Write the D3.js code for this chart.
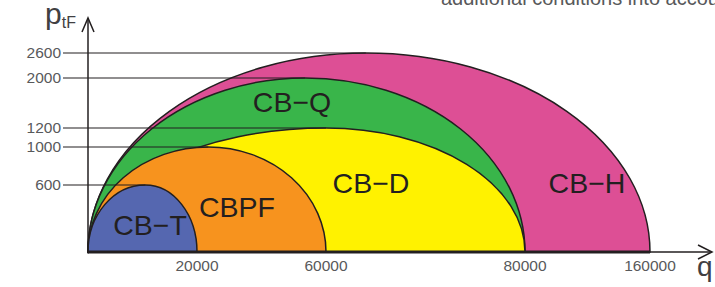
<!DOCTYPE html>
<html>
<head>
<meta charset="utf-8">
<script src="https://cdn.jsdelivr.net/npm/d3@7"></script>
<style>
  body { margin: 0; background: #fff; }
  svg { display: block; font-family: "Liberation Sans", Arial, sans-serif; }
</style>
</head>
<body>
<svg id="chart" width="715" height="287"></svg>
<script>
// regions, drawn back to front
const regions = ["CB−H", "CB−Q", "CB−D", "CBPF", "CB−T"];
const qMax = [160000, 80000, 80000, 60000, 20000];
const qPeak = [64000, 53500, 60000, 23500, 10500];
const pMax = [2600, 2000, 1200, 1000, 600];
const colors = ["#dd4f95", "#39b54a", "#fff200", "#f7931e", "#5567b0"];

const xTicks = [20000, 60000, 80000, 160000];
const yTicks = [2600, 2000, 1200, 1000, 600];

// the picture's axes are not linear, so piecewise scales
const x = d3.scaleLinear()
  .domain([0, 20000, 60000, 80000, 160000])
  .range([88, 197, 326, 525, 650]);
const y = d3.scaleLinear()
  .domain([0, 600, 1000, 1200, 2000, 2600])
  .range([252, 185, 147, 128, 78, 53]);

const svg = d3.select("#chart");
const ink = "#231f20";

// cut text at top
svg.append("text")
  .attr("x", 441).attr("y", 5)
  .attr("font-size", 20).attr("fill", "#58595b")
  .text("additional conditions into account");

// shapes
const shape = (i) => {
  let x0 = x(0), y0 = y(0);
  let xp = x(qPeak[i]), yp = y(pMax[i]), xe = x(qMax[i]);
  return `M${x0},${y0} A${xp - x0},${y0 - yp} 0 0 1 ${xp},${yp}` +
    ` A${xe - xp},${y0 - yp} 0 0 1 ${xe},${y0} Z`;
};

svg.selectAll(".region")
  .data(regions)
  .join("path")
  .attr("class", "region")
  .attr("d", (d, i) => shape(i))
  .attr("fill", (d, i) => colors[i])
  .attr("stroke", ink)
  .attr("stroke-width", 1.5);

// label positions
const labelPos = [[587, 193], [292, 112], [371, 193], [237, 217], [150, 235]];
svg.selectAll(".rlabel")
  .data(regions)
  .join("text")
  .attr("class", "rlabel")
  .attr("x", (d, i) => labelPos[i][0])
  .attr("y", (d, i) => labelPos[i][1])
  .attr("text-anchor", "middle")
  .attr("font-size", 28.5)
  .attr("fill", ink)
  .text(d => d);

// y tick lines reach the peak of each region
svg.selectAll(".ytick")
  .data(yTicks)
  .join("line")
  .attr("class", "ytick")
  .attr("x1", 63)
  .attr("x2", (d, i) => x(qPeak[pMax.indexOf(d)]))
  .attr("y1", d => y(d)).attr("y2", d => y(d))
  .attr("stroke", ink).attr("stroke-width", 1.2);

svg.selectAll(".ylab")
  .data(yTicks)
  .join("text")
  .attr("class", "ylab")
  .attr("x", 61)
  .attr("y", d => y(d) + 5)
  .attr("text-anchor", "end")
  .attr("font-size", 15.5)
  .attr("fill", "#58595b")
  .text(d => d);

svg.selectAll(".xlab")
  .data(xTicks)
  .join("text")
  .attr("class", "xlab")
  .attr("x", d => x(d))
  .attr("y", 271)
  .attr("text-anchor", "middle")
  .attr("font-size", 15.5)
  .attr("fill", "#58595b")
  .text(d => d);

// axes
svg.append("line")
  .attr("x1", x(0)).attr("x2", 712)
  .attr("y1", y(0)).attr("y2", y(0))
  .attr("stroke", ink).attr("stroke-width", 1.5);
svg.append("line")
  .attr("x1", x(0)).attr("x2", x(160000))
  .attr("y1", y(0)).attr("y2", y(0))
  .attr("stroke", ink).attr("stroke-width", 3);
svg.append("line")
  .attr("x1", x(0)).attr("x2", x(0))
  .attr("y1", y(0) + 1.5).attr("y2", 18)
  .attr("stroke", ink).attr("stroke-width", 1.5);

svg.append("path")
  .attr("d", "M698,245 L712,252 L698,259")
  .attr("fill", "none").attr("stroke", ink).attr("stroke-width", 1.5);
svg.append("path")
  .attr("d", "M82,32 L88,18 L94,32")
  .attr("fill", "none").attr("stroke", ink).attr("stroke-width", 1.5);

// axis titles
const pt = svg.append("text").attr("x", 45).attr("y", 24).attr("fill", "#414042");
pt.append("tspan").attr("font-size", 30).text("p");
pt.append("tspan").attr("font-size", 16).attr("dy", 4).text("tF");

svg.append("text")
  .attr("x", 697).attr("y", 276)
  .attr("font-size", 28).attr("fill", "#414042")
  .text("q");
</script>
</body>
</html>
